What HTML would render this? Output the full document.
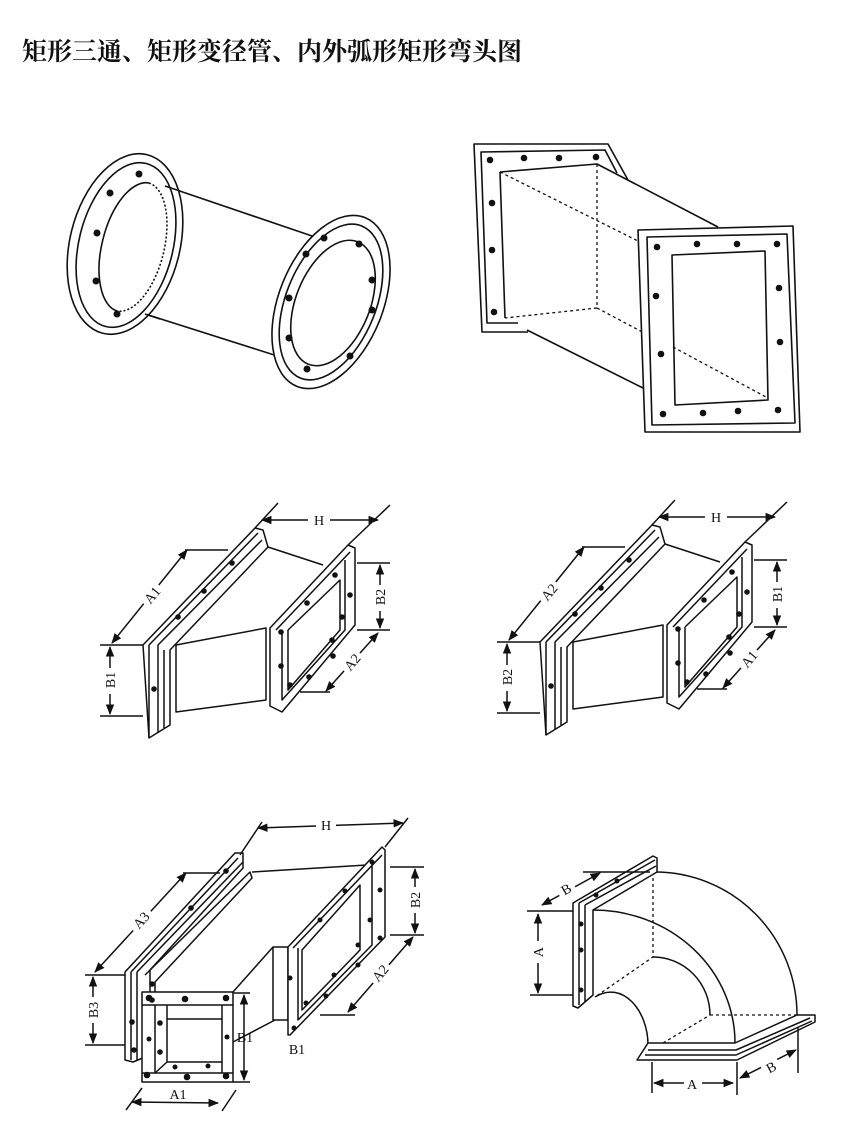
<!DOCTYPE html>
<html><head><meta charset="utf-8"><style>
html,body{margin:0;padding:0;background:#fff;}
svg{display:block}
text{font-family:"Liberation Serif","Noto Serif CJK SC",serif;fill:#111;}
</style></head><body>
<svg width="868" height="1141" viewBox="0 0 868 1141" xmlns="http://www.w3.org/2000/svg">
<text x="22" y="60" font-size="25" font-weight="bold" style="font-family:'Noto Serif CJK SC','Noto Sans CJK SC',serif">矩形三通、矩形变径管、内外弧形矩形弯头图</text>

<g fill="none" stroke="#111" stroke-width="1.6" stroke-linejoin="round">
<!-- Figure 1 -->
<path d="M162 185 L315 237 M142 313 L290 360"/>
<ellipse cx="125" cy="244" rx="55" ry="92" transform="rotate(14 125 244)" fill="#fff"/>
<ellipse cx="126" cy="245" rx="47" ry="84" transform="rotate(14 126 245)"/>
<path d="M149 183 A32 66 14 0 0 117 311"/>
<path d="M149 183 A32 66 14 0 1 117 311" stroke-dasharray="2 2"/>
<path d="M165 186 L180 191 M145 314 L160 319"/>
<ellipse cx="331" cy="302" rx="52" ry="91" transform="rotate(22 331 302)" fill="#fff"/>
<ellipse cx="331" cy="302" rx="45" ry="82" transform="rotate(22 331 302)"/>
<ellipse cx="333" cy="303" rx="37" ry="66" transform="rotate(22 333 303)"/>
</g>
<g fill="#111">
<circle cx="139" cy="174" r="3.5"/><circle cx="110" cy="193" r="3.5"/><circle cx="97" cy="233" r="3.5"/><circle cx="96" cy="281" r="3.5"/><circle cx="117" cy="314" r="3.5"/>
<circle cx="324" cy="238" r="3.5"/><circle cx="359" cy="244" r="3.5"/><circle cx="306" cy="254" r="3.5"/><circle cx="372" cy="280" r="3.5"/><circle cx="289" cy="298" r="3.5"/><circle cx="372" cy="310" r="3.5"/><circle cx="289" cy="338" r="3.5"/><circle cx="350" cy="356" r="3.5"/><circle cx="307" cy="369" r="3.5"/>
</g>

<!-- Figure 2 -->
<g fill="none" stroke="#111" stroke-width="1.6" stroke-linejoin="round">
<path d="M628 180 L608 144 L474 144 L482 332 L528 332"/>
<path d="M617 173 L605 150 L481 152 L487 323 L518 323"/>
<path d="M500 172 L597 164 L718 227 M500 172 L505 318 M527 330 L643 388"/>
<g stroke-dasharray="3 3" stroke-width="1.3">
<path d="M597 164 L597 308 L505 318 M500 172 L640 242 M597 308 L767 398"/>
</g>
<path d="M638 230 L793 226 L800 432 L645 432 Z" fill="#fff"/>
<path d="M647 237 L787 234 L795 423 L652 425 Z"/>
<path d="M672 255 L765 251 L768 400 L675 405 Z"/>
<path d="M673 347 L766 397" stroke-dasharray="3 3" stroke-width="1.3"/>
</g>
<g fill="#111">
<circle cx="490" cy="160" r="3.3"/><circle cx="524" cy="158" r="3.3"/><circle cx="559" cy="158" r="3.3"/><circle cx="596" cy="157" r="3.3"/><circle cx="492" cy="203" r="3.3"/><circle cx="492" cy="250" r="3.3"/><circle cx="494" cy="312" r="3.3"/>
<circle cx="657" cy="247" r="3.3"/><circle cx="697" cy="244" r="3.3"/><circle cx="737" cy="244" r="3.3"/><circle cx="777" cy="244" r="3.3"/><circle cx="656" cy="296" r="3.3"/><circle cx="661" cy="354" r="3.3"/><circle cx="779" cy="288" r="3.3"/><circle cx="780" cy="342" r="3.3"/><circle cx="663" cy="414" r="3.3"/><circle cx="703" cy="413" r="3.3"/><circle cx="738" cy="411" r="3.3"/><circle cx="778" cy="410" r="3.3"/>
</g>

<defs>
<marker id="ar" viewBox="0 0 10 10" refX="9" refY="5" markerWidth="7" markerHeight="7" orient="auto-start-reverse"><path d="M0 1 L10 5 L0 9 z" fill="#111"/></marker>
<g id="reducer">
<g fill="none" stroke="#111" stroke-width="1.5" stroke-linejoin="round">
<path d="M143 645 L255 528 L263 530 L268 547 L170 650 L170 725 L149 738 Z" fill="#fff"/>
<path d="M149 645 L258 533 M158 645 L262 540 M149 645 L149 738 M158 645 L158 732 M164 650 L164 728"/>
<path d="M268 547 L323 565 M176 645 L266 628 L266 700 L176 712 Z"/>
<path d="M270 628 L348 545 L355 548 L355 625 L282 712 L270 706 Z" fill="#fff"/>
<path d="M276 630 L350 552 M282 632 L282 700 L345 630 L345 560 M288 630 L288 690 L340 630 L340 580 L288 630"/>
<path d="M262 520 L378 520" marker-start="url(#ar)" marker-end="url(#ar)"/>
<path d="M255 528 L278 503 M348 545 L390 505"/>
<path d="M187 550 L112 643" marker-start="url(#ar)" marker-end="url(#ar)"/>
<path d="M185 550 L228 550 M100 645 L143 645 M100 716 L143 716"/>
<path d="M110 647 L110 714" marker-start="url(#ar)" marker-end="url(#ar)"/>
<path d="M380 565 L380 628" marker-start="url(#ar)" marker-end="url(#ar)"/>
<path d="M357 563 L390 563 M357 630 L390 630"/>
<path d="M378 633 L326 691" marker-start="url(#ar)" marker-end="url(#ar)"/>
<path d="M300 692 L330 692"/>
</g>
<g fill="#111">
<circle cx="232" cy="563" r="2.8"/><circle cx="204" cy="591" r="2.8"/><circle cx="178" cy="617" r="2.8"/><circle cx="154" cy="689" r="2.8"/>
<circle cx="307" cy="603" r="2.8"/><circle cx="335" cy="575" r="2.8"/><circle cx="350" cy="595" r="2.8"/><circle cx="342" cy="617" r="2.8"/><circle cx="281" cy="632" r="2.8"/><circle cx="281" cy="666" r="2.8"/><circle cx="290" cy="685" r="2.8"/><circle cx="309" cy="677" r="2.8"/><circle cx="333" cy="656" r="2.8"/><circle cx="332" cy="640" r="2.8"/>
</g>
<rect x="308" y="513" width="22" height="14" fill="#fff"/>
<text x="319" y="525" font-size="14" text-anchor="middle">H</text>
</g>
</defs>

<use href="#reducer"/>
<g font-size="14" text-anchor="middle">
<rect x="140" y="585" width="24" height="20" fill="#fff" transform="rotate(-50 152 595)"/>
<text x="152" y="600" transform="rotate(-50 152 595)">A1</text>
<rect x="101" y="668" width="18" height="26" fill="#fff"/>
<text x="110" y="685" transform="rotate(-90 110 680)">B1</text>
<rect x="371" y="585" width="18" height="26" fill="#fff"/>
<text x="380" y="602" transform="rotate(-90 380 597)">B2</text>
<rect x="340" y="652" width="24" height="20" fill="#fff" transform="rotate(-50 352 662)"/>
<text x="352" y="667" transform="rotate(-50 352 662)">A2</text>
</g>

<g transform="translate(397,-3)">
<use href="#reducer"/>
<g font-size="14" text-anchor="middle">
<rect x="140" y="585" width="24" height="20" fill="#fff" transform="rotate(-50 152 595)"/>
<text x="152" y="600" transform="rotate(-50 152 595)">A2</text>
<rect x="101" y="668" width="18" height="26" fill="#fff"/>
<text x="110" y="685" transform="rotate(-90 110 680)">B2</text>
<rect x="371" y="585" width="18" height="26" fill="#fff"/>
<text x="380" y="602" transform="rotate(-90 380 597)">B1</text>
<rect x="340" y="652" width="24" height="20" fill="#fff" transform="rotate(-50 352 662)"/>
<text x="352" y="667" transform="rotate(-50 352 662)">A1</text>
</g>
</g>

<!-- Tee -->
<g fill="none" stroke="#111" stroke-width="1.5" stroke-linejoin="round">
<path d="M252 872 L367 865 M233 992 L273 947 M233 1042 L275 1020"/>
<path d="M125 972 L235 853 L243 853 L243 868 L150 970 L150 1055 L133 1062 L125 1060 Z" fill="#fff"/>
<path d="M131 972 L238 858 M137 972 L243 862 M131 972 L131 1060 M137 972 L137 1060 M145 975 L250 872 L252 878 L155 982 L155 995"/>
<path d="M142 992 L233 992 L233 1082 L142 1082 Z" fill="#fff"/>
<path d="M142 1005 L233 1005 M142 1073 L233 1073 M155 1005 L155 1073 M222 1005 L222 1073"/>
<path d="M167 1005 L167 1062 L222 1062 M167 1019 L222 1019 M155 1073 L167 1062"/>
<path d="M273 947 L288 947 L288 1020 L273 1020 Z" fill="#fff"/>
<path d="M288 947 L382 847 L385 850 L385 937 L290 1035 L288 1035 Z" fill="#fff"/>
<path d="M293 948 L382 855 M298 948 L298 1020 L372 945 L372 862 M302 950 L302 1010 L360 950 L360 885 Z"/>
<path d="M258 828 L403 823" marker-start="url(#ar)" marker-end="url(#ar)"/>
<path d="M240 855 L262 822 M385 847 L408 818"/>
<path d="M186 873 L95 972" marker-start="url(#ar)" marker-end="url(#ar)"/>
<path d="M183 873 L220 873 M85 975 L125 975 M85 1045 L125 1045"/>
<path d="M93 977 L93 1043" marker-start="url(#ar)" marker-end="url(#ar)"/>
<path d="M244 995 L244 1080" marker-start="url(#ar)" marker-end="url(#ar)"/>
<path d="M233 993 L250 993 M233 1082 L250 1082"/>
<path d="M132 1102 L218 1103" marker-start="url(#ar)" marker-end="url(#ar)"/>
<path d="M126 1110 L142 1088 M222 1111 L236 1090"/>
<path d="M415 869 L415 933" marker-start="url(#ar)" marker-end="url(#ar)"/>
<path d="M390 867 L424 867 M390 935 L424 935"/>
<path d="M413 937 L348 1012" marker-start="url(#ar)" marker-end="url(#ar)"/>
<path d="M320 1015 L355 1015"/>
</g>
<g fill="#111">
<circle cx="226" cy="871" r="2.8"/><circle cx="191" cy="908" r="2.8"/><circle cx="152" cy="984" r="2.8"/><circle cx="132" cy="1022" r="2.8"/><circle cx="134" cy="1050" r="2.8"/><circle cx="152" cy="1000" r="2.8"/>
<circle cx="149" cy="998" r="3.3"/><circle cx="185" cy="999" r="3.3"/><circle cx="226" cy="998" r="3.3"/><circle cx="147" cy="1075" r="3.3"/><circle cx="187" cy="1077" r="3.3"/><circle cx="226" cy="1076" r="3.3"/><circle cx="160" cy="1023" r="2.8"/><circle cx="160" cy="1052" r="2.8"/><circle cx="149" cy="1039" r="2.5"/><circle cx="227" cy="1037" r="2.5"/><circle cx="175" cy="1067" r="2.5"/><circle cx="208" cy="1066" r="2.5"/>
<circle cx="372" cy="862" r="2.5"/><circle cx="380" cy="890" r="2.5"/><circle cx="370" cy="920" r="2.5"/><circle cx="345" cy="891" r="2.5"/><circle cx="320" cy="920" r="2.5"/><circle cx="380" cy="938" r="2.5"/><circle cx="358" cy="945" r="2.5"/><circle cx="358" cy="965" r="2.5"/><circle cx="334" cy="975" r="2.5"/><circle cx="326" cy="996" r="2.5"/><circle cx="306" cy="1003" r="2.5"/><circle cx="290" cy="978" r="2.5"/><circle cx="294" cy="1028" r="2.5"/>
</g>
<g font-size="14" text-anchor="middle">
<rect x="316" y="818" width="20" height="14" fill="#fff"/>
<text x="326" y="830">H</text>
<rect x="128" y="910" width="26" height="20" fill="#fff" transform="rotate(-48 141 920)"/>
<text x="141" y="925" transform="rotate(-48 141 920)">A3</text>
<rect x="84" y="997" width="18" height="26" fill="#fff"/>
<text x="93" y="1015" transform="rotate(-90 93 1010)">B3</text>
<text x="245" y="1042">B1</text>
<text x="297" y="1054">B1</text>
<text x="178" y="1099">A1</text>
<rect x="406" y="887" width="18" height="26" fill="#fff"/>
<text x="415" y="905" transform="rotate(-90 415 900)">B2</text>
<rect x="368" y="963" width="24" height="20" fill="#fff" transform="rotate(-50 380 973)"/>
<text x="380" y="978" transform="rotate(-50 380 973)">A2</text>
</g>

<!-- Elbow -->
<g fill="none" stroke="#111" stroke-width="1.5" stroke-linejoin="round">
<path d="M655 872 A142 143 0 0 1 797 1015"/>
<path d="M593 910 A142 133 0 0 1 735 1043"/>
<path d="M653 957 A57 58 0 0 1 710 1015"/>
<path d="M595 997 C622 980 648 1010 648 1045"/>
<g stroke-dasharray="3 3" stroke-width="1.3">
<path d="M653 872 L653 957 L595 997 M710 1015 L797 1015 M663 1043 L710 1015"/>
</g>
<path d="M573 903 L653 856 L657 858 L657 872 L593 910 L593 995 L578 1008 L573 1006 Z" fill="#fff"/>
<path d="M579 903 L655 860 M585 905 L656 866 M579 903 L579 1005 M585 905 L585 1002"/>
<path d="M648 1043 L735 1043 L797 1015 L815 1015 L815 1022 L737 1060 L637 1060 Z" fill="#fff"/>
<path d="M648 1050 L736 1050 L810 1018 M645 1055 L736 1055 L812 1021"/>
<path d="M538 914 L538 993" marker-start="url(#ar)" marker-end="url(#ar)"/>
<path d="M527 911 L573 911 M530 995 L573 995"/>
<path d="M542 905 L600 873" marker-start="url(#ar)" marker-end="url(#ar)"/>
<path d="M583 872 L650 872"/>
<path d="M654 1083 L733 1083" marker-start="url(#ar)" marker-end="url(#ar)"/>
<path d="M652 1062 L652 1093 M737 1062 L737 1095"/>
<path d="M740 1078 L796 1050" marker-start="url(#ar)" marker-end="url(#ar)"/>
<path d="M798 1028 L798 1073"/>
</g>
<g fill="#111">
<circle cx="581" cy="924" r="2.5"/><circle cx="581" cy="950" r="2.5"/><circle cx="581" cy="990" r="2.5"/><circle cx="596" cy="895" r="2.5"/><circle cx="617" cy="881" r="2.5"/>
</g>
<g font-size="14" text-anchor="middle">
<rect x="529" y="941" width="18" height="22" fill="#fff"/>
<text x="538" y="957" transform="rotate(-90 538 952)">A</text>
<rect x="557" y="880" width="18" height="18" fill="#fff" transform="rotate(-30 566 889)"/>
<text x="566" y="894" transform="rotate(-30 566 889)">B</text>
<rect x="684" y="1076" width="18" height="16" fill="#fff"/>
<text x="692" y="1089">A</text>
<rect x="762" y="1058" width="18" height="18" fill="#fff" transform="rotate(-28 771 1067)"/>
<text x="771" y="1072" transform="rotate(-28 771 1067)">B</text>
</g>
</svg>
</body></html>
